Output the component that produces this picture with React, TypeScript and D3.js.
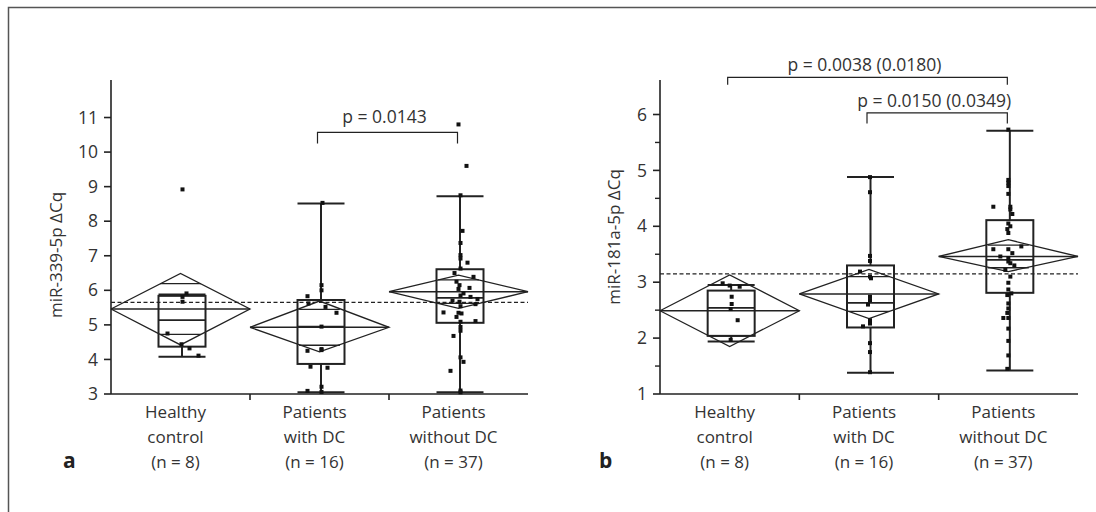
import React, { useEffect, useRef } from 'react';
import * as d3 from 'd3';

// categories
const groups = ['hc', 'withDC', 'withoutDC'];
const groupLabels = [
  ['Healthy', 'control', '(n = 8)'],
  ['Patients', 'with DC', '(n = 16)'],
  ['Patients', 'without DC', '(n = 37)'],
];

// panel a: miR-339-5p
const pts339Hc = [8.92, 5.91, 5.81, 5.67, 4.75, 4.44, 4.32, 4.11];
const pts339With = [8.53, 6.15, 6.0, 5.83, 5.62, 5.52, 5.35, 4.95, 4.3, 4.27, 4.25, 3.79, 3.76, 3.21, 3.09, 3.06];
const pts339Without = [10.8, 9.6, 8.75, 7.72, 7.37, 7.02, 6.92, 6.8, 6.63, 6.5, 6.39, 6.25, 6.15, 6.07, 6.04, 5.91, 5.85, 5.81, 5.75, 5.7, 5.67, 5.6, 5.54, 5.36, 5.35, 5.33, 5.23, 5.11, 5.09, 4.94, 4.83, 4.68, 4.06, 3.93, 3.67, 3.1, 3.05];
const mean339 = [5.46, 4.93, 5.96];
const ciLo339 = [4.42, 4.22, 5.48];
const ciHi339 = [6.49, 5.69, 6.44];
const q1_339 = [4.37, 3.87, 5.06];
const med339 = [5.14, 4.95, 5.78];
const q3_339 = [5.84, 5.72, 6.61];
const whLo339 = [4.08, 3.05, 3.05];
const whHi339 = [5.88, 8.51, 8.72];
const grand339 = 5.65;
const ticks339 = [3, 4, 5, 6, 7, 8, 9, 10, 11];

// panel b: miR-181a-5p
const pts181Hc = [2.98, 2.94, 2.92, 2.74, 2.61, 2.52, 2.32, 1.97];
const pts181With = [4.88, 4.61, 3.47, 3.38, 3.19, 3.1, 3.07, 2.74, 2.68, 2.6, 2.32, 2.26, 2.21, 1.91, 1.75, 1.39];
const pts181Without = [5.73, 4.83, 4.78, 4.72, 4.58, 4.35, 4.35, 4.3, 4.22, 4.05, 4.0, 3.95, 3.88, 3.64, 3.59, 3.59, 3.52, 3.46, 3.43, 3.37, 3.34, 3.3, 3.22, 3.1, 2.99, 2.87, 2.8, 2.77, 2.62, 2.53, 2.45, 2.36, 2.36, 2.17, 1.95, 1.69, 1.45];
const mean181 = [2.49, 2.79, 3.46];
const ciLo181 = [1.85, 2.35, 3.19];
const ciHi181 = [3.13, 3.23, 3.76];
const q1_181 = [2.04, 2.19, 2.81];
const med181 = [2.54, 2.63, 3.4];
const q3_181 = [2.85, 3.3, 4.11];
const whLo181 = [1.94, 1.38, 1.42];
const whHi181 = [2.95, 4.88, 5.71];
const grand181 = 3.15;
const ticks181 = [1, 2, 3, 4, 5, 6];
const minor181 = [1.5, 2.5, 3.5, 4.5, 5.5];

// horizontal jitter of the dots (px)
const jit339 = [
  [2, 6, 2, 2, -13, 1, 9, 18],
  [3, 2, 2, -12, -11, 6, 17, 2, 2, 2, -12, -9, 8, 2, -12, 2],
  [0, 8, 2, 4, 2, 2, 2, 9, 2, -4, 15, -2, 1, 11, 0, 5, 2, 12, 19, -6, 1, 17, 2, -15, 0, 3, -2, 17, 2, 2, 2, -5, 2, 5, -8, 2, 2],
];
const jit181 = [
  [-7, 0, 10, 2, 2, 1, 8, 1],
  [1, 1, 1, 1, -9, 1, 2, 1, 1, -1, 1, 1, -6, 1, 1, 1],
  [0, 0, 0, 0, 0, -15, 2, 2, 4, 0, 2, -1, 0, 13, 0, -15, 4, -8, 0, 0, 2, 6, -3, 2, 0, 0, 3, -1, 0, 0, -1, -5, 0, 0, 0, 0, -1],
];

const FONT = '"Open Sans", "Noto Sans", sans-serif';
const INK = '#222';

type Panel = {
  left: number; right: number; yMax: number; yMin: number;
  pts: number[][]; jit: number[][];
  mean: number[]; ciLo: number[]; ciHi: number[];
  q1: number[]; med: number[]; q3: number[]; whLo: number[]; whHi: number[];
  grand: number; ticks: number[]; minor: number[];
  title: string; titleX: number; titleY: number; letter: string; letterX: number;
  brackets: { a: number; b: number; y: number; drop: number; ty: number; text: string }[];
};

function drawPanel(svg: any, p: Panel) {
  const y = d3.scaleLinear().domain([p.yMin, p.yMax]).range([394, 80]);
  const x = d3.scaleBand().domain(groups).range([p.left, p.right]).padding(0);
  const bw = x.bandwidth();
  const boxW = 47;
  const g = svg.append('g');

  // axes
  g.append('line').attr('x1', p.left).attr('x2', p.left).attr('y1', 80).attr('y2', 394)
    .attr('stroke', INK).attr('stroke-width', 1.6);
  g.append('line').attr('x1', p.left).attr('x2', p.right).attr('y1', 394).attr('y2', 394)
    .attr('stroke', INK).attr('stroke-width', 1.6);
  p.ticks.forEach(t => {
    g.append('line').attr('x1', p.left - 7).attr('x2', p.left).attr('y1', y(t)).attr('y2', y(t))
      .attr('stroke', INK).attr('stroke-width', 1.6);
    g.append('text').attr('x', p.left - 13).attr('y', y(t)).attr('dy', '0.35em')
      .attr('text-anchor', 'end').attr('font-size', 17.5).attr('fill', '#333')
      .attr('font-family', FONT).text(t);
  });
  p.minor.forEach(t => {
    g.append('line').attr('x1', p.left - 5).attr('x2', p.left).attr('y1', y(t)).attr('y2', y(t))
      .attr('stroke', INK).attr('stroke-width', 1.4);
  });
  groups.slice(1).forEach(k => {
    g.append('line').attr('x1', x(k)!).attr('x2', x(k)!).attr('y1', 394).attr('y2', 400)
      .attr('stroke', INK).attr('stroke-width', 1.6);
  });
  groups.forEach((k, i) => {
    const cx = x(k)! + bw / 2 - 5;
    groupLabels[i].forEach((s, j) => {
      g.append('text').attr('x', cx).attr('y', 418 + j * 25).attr('text-anchor', 'middle')
        .attr('font-size', 17).attr('fill', '#333').attr('font-family', FONT).text(s);
    });
  });
  g.append('text')
    .attr('transform', `translate(${p.titleX},${p.titleY}) rotate(-90)`)
    .attr('text-anchor', 'middle').attr('font-size', 17).attr('fill', '#333')
    .attr('font-family', FONT).text(p.title);
  g.append('text').attr('x', p.letterX).attr('y', 468).attr('font-size', 21)
    .attr('font-weight', 'bold').attr('fill', '#222').attr('font-family', FONT).text(p.letter);

  // grand mean
  g.append('line').attr('x1', p.left).attr('x2', p.right).attr('y1', y(p.grand)).attr('y2', y(p.grand))
    .attr('stroke', INK).attr('stroke-width', 1.2).attr('stroke-dasharray', '4,2.5');

  groups.forEach((k, i) => {
    const x0 = x(k)!;
    const cx = x0 + bw / 2;
    const bx = cx + 1.5;
    // means diamond
    const ym = y(p.mean[i]);
    const yt = y(p.ciHi[i]);
    const yb = y(p.ciLo[i]);
    g.append('path')
      .attr('d', d3.line()([[x0, ym], [cx, yt], [x0 + bw, ym], [cx, yb], [x0, ym]]))
      .attr('fill', 'none').attr('stroke', INK).attr('stroke-width', 1.3);
    g.append('line').attr('x1', x0).attr('x2', x0 + bw).attr('y1', ym).attr('y2', ym)
      .attr('stroke', INK).attr('stroke-width', 1.6);
    // overlap marks
    const hw = (yb - yt) / 2;
    const off = hw / Math.SQRT2;
    const half = (bw / 2) * (1 - 1 / Math.SQRT2);
    [ym - off, ym + off].forEach(yy => {
      g.append('line').attr('x1', cx - half).attr('x2', cx + half).attr('y1', yy).attr('y2', yy)
        .attr('stroke', INK).attr('stroke-width', 1.3);
    });
    // box plot
    g.append('line').attr('x1', bx).attr('x2', bx).attr('y1', y(p.whHi[i])).attr('y2', y(p.q3[i]))
      .attr('stroke', INK).attr('stroke-width', 2);
    g.append('line').attr('x1', bx).attr('x2', bx).attr('y1', y(p.q1[i])).attr('y2', y(p.whLo[i]))
      .attr('stroke', INK).attr('stroke-width', 2);
    [p.whHi[i], p.whLo[i]].forEach(v => {
      g.append('line').attr('x1', bx - boxW / 2).attr('x2', bx + boxW / 2).attr('y1', y(v)).attr('y2', y(v))
        .attr('stroke', INK).attr('stroke-width', 2);
    });
    g.append('rect').attr('x', bx - boxW / 2).attr('y', y(p.q3[i])).attr('width', boxW)
      .attr('height', y(p.q1[i]) - y(p.q3[i])).attr('fill', 'none').attr('stroke', INK).attr('stroke-width', 2);
    g.append('line').attr('x1', bx - boxW / 2).attr('x2', bx + boxW / 2).attr('y1', y(p.med[i])).attr('y2', y(p.med[i]))
      .attr('stroke', INK).attr('stroke-width', 1.8);
    // points
    g.selectAll(null).data(p.pts[i]).enter().append('rect')
      .attr('x', (d: number, j: number) => cx + p.jit[i][j] - 2)
      .attr('y', (d: number) => y(d) - 2)
      .attr('width', 4).attr('height', 4).attr('fill', '#111');
  });

  // significance brackets
  p.brackets.forEach(b => {
    const xa = x(groups[b.a])! + bw / 2 - 2;
    const xb = x(groups[b.b])! + bw / 2 - 1;
    g.append('path')
      .attr('d', d3.line()([[xa, y(b.drop)], [xa, y(b.y)], [xb, y(b.y)], [xb, y(b.drop)]]))
      .attr('fill', 'none').attr('stroke', INK).attr('stroke-width', 1.2);
    g.append('text').attr('x', (xa + xb) / 2 - 3).attr('y', y(b.ty)).attr('text-anchor', 'middle')
      .attr('font-size', 17.5).attr('fill', '#333').attr('font-family', FONT).text(b.text);
  });
}

export default function App() {
  const ref = useRef<SVGSVGElement>(null);

  useEffect(() => {
    if (!ref.current) return;
    const svg = d3.select(ref.current);
    svg.selectAll('*').remove();

    // frame
    svg.append('path').attr('d', 'M8.5,512 L8.5,7.5 L1096,7.5')
      .attr('fill', 'none').attr('stroke', '#555').attr('stroke-width', 1.5);

    drawPanel(svg, {
      left: 111, right: 528, yMin: 3, yMax: 3 + (394 - 80) / 34.56,
      pts: [pts339Hc, pts339With, pts339Without], jit: jit339,
      mean: mean339, ciLo: ciLo339, ciHi: ciHi339, q1: q1_339, med: med339, q3: q3_339,
      whLo: whLo339, whHi: whHi339, grand: grand339, ticks: ticks339, minor: [],
      title: 'miR-339-5p ΔCq', titleX: 62, titleY: 255, letter: 'a', letterX: 63,
      brackets: [{ a: 1, b: 2, y: 10.57, drop: 10.25, ty: 10.84, text: 'p = 0.0143' }],
    });
    drawPanel(svg, {
      left: 660, right: 1078, yMin: 1, yMax: 1 + (394 - 80) / 55.9,
      pts: [pts181Hc, pts181With, pts181Without], jit: jit181,
      mean: mean181, ciLo: ciLo181, ciHi: ciHi181, q1: q1_181, med: med181, q3: q3_181,
      whLo: whLo181, whHi: whHi181, grand: grand181, ticks: ticks181, minor: minor181,
      title: 'miR-181a-5p ΔCq', titleX: 620, titleY: 237, letter: 'b', letterX: 599,
      brackets: [
        { a: 0, b: 2, y: 6.665, drop: 6.53, ty: 6.77, text: 'p = 0.0038 (0.0180)' },
        { a: 1, b: 2, y: 6.03, drop: 5.84, ty: 6.14, text: 'p = 0.0150 (0.0349)' },
      ],
    });
  }, []);

  return (
    <div style={{ position: 'absolute', left: 0, top: 0 }}>
      <svg ref={ref} width={1096} height={512} style={{ display: 'block', background: '#fff' }} />
    </div>
  );
}
